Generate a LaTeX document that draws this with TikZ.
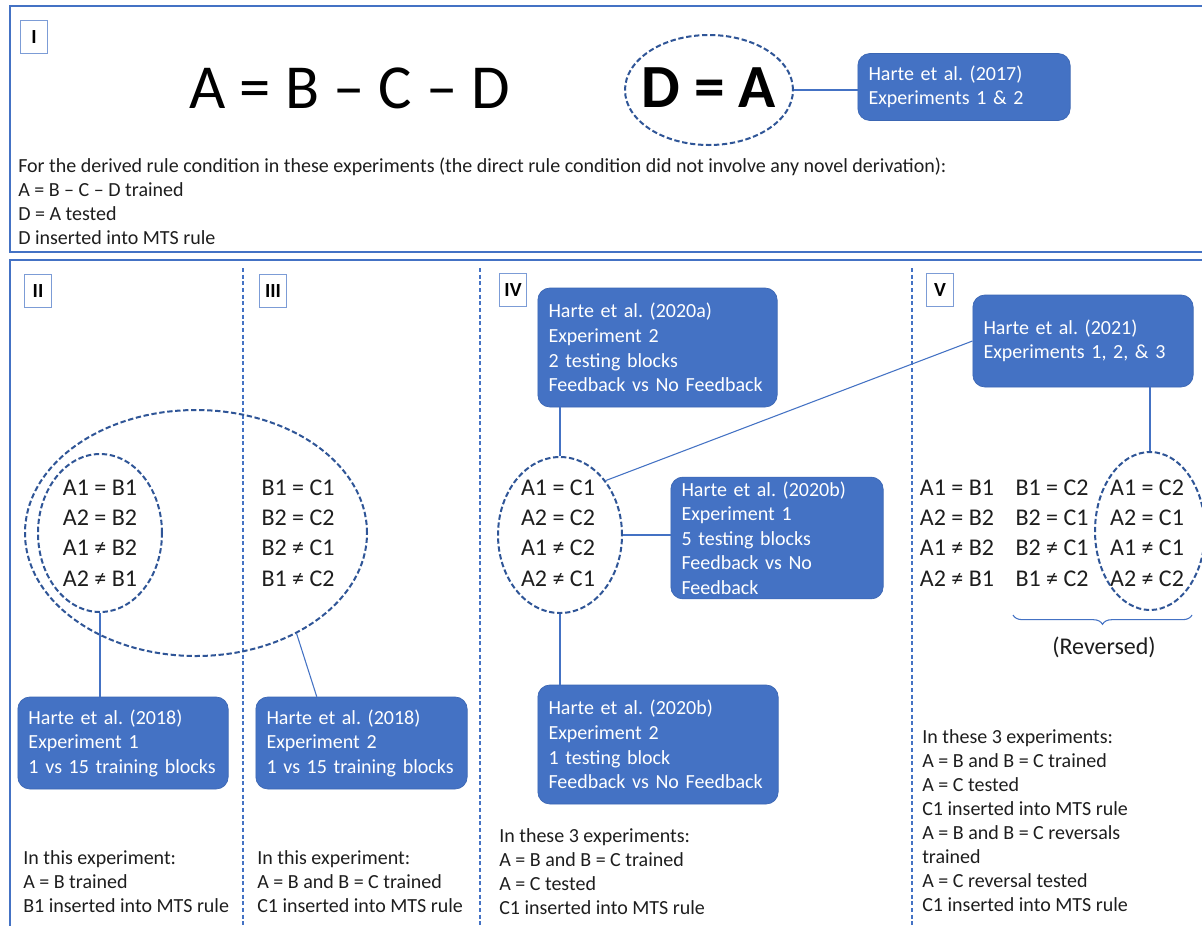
\documentclass[tikz,border=0pt]{standalone}
\usepackage{fontspec}
\setmainfont{Carlito}
\usetikzlibrary{shapes.geometric, decorations.pathreplacing, calc, positioning}

\definecolor{officeblue}{HTML}{4472C4}
\definecolor{darkring}{HTML}{2F5597}
\definecolor{boxedge}{HTML}{3B66B3}
\definecolor{tagedge}{HTML}{7C9CD6}
\definecolor{inktext}{HTML}{1E1E1E}

% one pixel of the original layout
\newcommand{\pxu}{0.75pt}
\frenchspacing
\hyphenpenalty=10000

\begin{document}
\begin{tikzpicture}[x=0.75pt, y=-0.75pt,
    frame/.style={draw=officeblue, line width=1.2pt},
    tag/.style={draw=tagedge, line width=0.8pt, font=\fontsize{15}{18}\selectfont\bfseries,
        minimum width=27*\pxu, minimum height=33*\pxu, inner xsep=4pt},
    study/.style={rectangle, rounded corners=9pt, fill=officeblue, draw=boxedge, line width=0.5pt,
        text=white, font=\fontsize{15}{18.4}\selectfont, align=left, inner xsep=8pt},
    ring/.style={ellipse, draw=darkring, line width=1.5pt, dash pattern=on 4pt off 2pt, inner sep=0pt},
    rules/.style={font=\fontsize{18}{22.7}\selectfont, align=center, text=inktext},
    notes/.style={font=\fontsize{15}{18}\selectfont, align=left, anchor=west, text=inktext, inner sep=0pt},
    link/.style={draw=officeblue, line width=0.8pt},
    divider/.style={draw=officeblue, line width=0.8pt, dash pattern=on 3pt off 2pt}]

    \useasboundingbox (0,0) rectangle (1202,925);
    \clip (0,0) rectangle (1202,925);
    \fill[white] (0,0) rectangle (1202,925);

    % Panel frames and dividers
    \draw[frame] (10,6) rectangle (1215,252);
    \draw[frame] (10,260) rectangle (1215,940);
    \foreach \xd in {243,480,912}
        \draw[divider] (\xd,268) -- (\xd,930);

    % Panel tags
    \node[tag] (tagI) at (34,37) {I};
    \node[tag] (tagII) at (38,291) {II};
    \node[tag] (tagIII) at (273,291) {III};
    \node[tag] (tagIV) at (513,290) {IV};
    \node[tag] (tagV) at (940,290) {V};

    % Panel I
    \node[font=\fontsize{47}{54}\selectfont, text=black] (chain) at (350,88) {A = B – C – D};
    \node[ring, minimum width=168*\pxu, minimum height=110*\pxu] (eDA) at (709,90) {};
    \node[font=\fontsize{46}{54}\selectfont\bfseries, text=black] (dEqA) at (709,88) {D = A};
    \node[study, minimum height=67*\pxu, text width=191*\pxu] (h17) at (964,87) {Harte et al. (2017)\\Experiments 1 \& 2};
    \draw[link] (eDA.east) -- (eDA.east -| h17.west);
    \node[notes] (notesI) at (18,201) {For the derived rule condition in these experiments (the direct rule condition did not involve any novel derivation):\\
        A = B – C – D trained\\D = A tested\\D inserted into MTS rule};

    % Panels II and III
    \node[ring, minimum width=342*\pxu, minimum height=246*\pxu] (eBig) at (196,533) {};
    \node[ring, minimum width=124*\pxu, minimum height=158*\pxu] (eII) at (100,533) {};
    \node[rules] (rII) at (100,533) {A1 = B1\\A2 = B2\\A1 ≠ B2\\A2 ≠ B1};
    \node[rules] (rIII) at (298,533) {B1 = C1\\B2 = C2\\B2 ≠ C1\\B1 ≠ C2};
    \node[study, minimum height=92*\pxu, text width=189*\pxu] (h18a) at (123,743) {Harte et al. (2018)\\Experiment 1\\1 vs 15 training blocks};
    \node[study, minimum height=92*\pxu, text width=190*\pxu] (h18b) at (361.5,743) {Harte et al. (2018)\\Experiment 2\\1 vs 15 training blocks};
    \draw[link] (eII.south) -- (eII.south |- h18a.north);
    \draw[link] (eBig.-45) -- (h18b.134);
    \node[notes] (notesII) at (23,882) {In this experiment:\\A = B trained\\B1 inserted into MTS rule};
    \node[notes] (notesIII) at (257,882) {In this experiment:\\A = B and B = C trained\\C1 inserted into MTS rule};

    % Panel IV
    \node[ring, minimum width=124*\pxu, minimum height=156*\pxu] (eIV) at (560,535) {};
    \node[rules] (rIV) at (558,533) {A1 = C1\\A2 = C2\\A1 ≠ C2\\A2 ≠ C1};
    \node[study, minimum height=119*\pxu, text width=218*\pxu] (h20a) at (657.5,347.5) {Harte et al. (2020a)\\Experiment 2\\2 testing blocks\\Feedback vs No Feedback};
    \node[study, minimum height=120*\pxu, text width=191*\pxu] (h20b) at (777,538) {Harte et al. (2020b)\\Experiment 1\\5 testing blocks\\Feedback vs No\\Feedback};
    \node[study, minimum height=119*\pxu, text width=219*\pxu] (h20c) at (658,744.5) {Harte et al. (2020b)\\Experiment 2\\1 testing block\\Feedback vs No Feedback};
    \draw[link] (eIV.north) -- (eIV.north |- h20a.south);
    \draw[link] (eIV.east) -- (eIV.east -| h20b.west);
    \draw[link] (eIV.south) -- (eIV.south |- h20c.north);
    \node[notes] (notesIV) at (499,872) {In these 3 experiments:\\A = B and B = C trained\\A = C tested\\C1 inserted into MTS rule};

    % Panel V
    \node[study, minimum height=92*\pxu, text width=199*\pxu] (h21) at (1083,341) {Harte et al. (2021)\\Experiments 1, 2, \& 3};
    \draw[link] (eIV.50) -- (h21.west);
    \node[rules] (rVa) at (957,533) {A1 = B1\\A2 = B2\\A1 ≠ B2\\A2 ≠ B1};
    \node[rules] (rVb) at (1052,533) {B1 = C2\\B2 = C1\\B2 ≠ C1\\B1 ≠ C2};
    \node[rules] (rVc) at (1147,533) {A1 = C2\\A2 = C1\\A1 ≠ C1\\A2 ≠ C2};
    \node[ring, minimum width=110*\pxu, minimum height=158*\pxu] (eV) at (1150,531) {};
    \draw[link] (eV.north) -- (eV.north |- h21.south);
    \coordinate (braceL) at (1013,615);
    \coordinate (braceR) at (1192,615);
    \draw[link, decorate, decoration={brace, mirror, amplitude=7pt}] (braceL) -- (braceR);
    \node[font=\fontsize{18}{22}\selectfont, text=inktext] (rev) at (1104,647) {(Reversed)};
    \node[notes] (notesV) at (922,820.5) {In these 3 experiments:\\A = B and B = C trained\\A = C tested\\C1 inserted into MTS rule\\A = B and B = C reversals\\trained\\A = C reversal tested\\C1 inserted into MTS rule};
\end{tikzpicture}
\end{document}
